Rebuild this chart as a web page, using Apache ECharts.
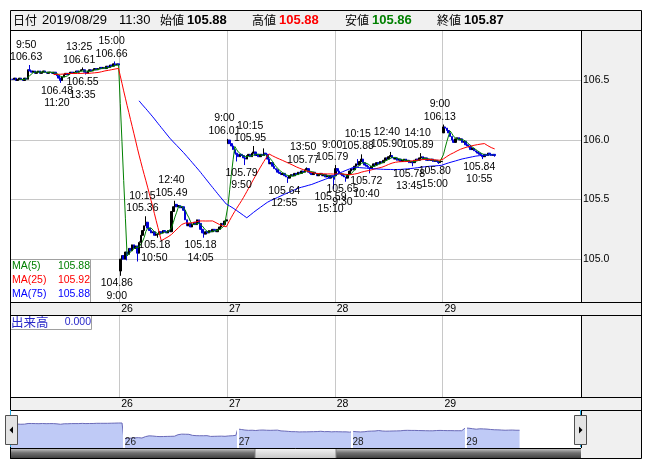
<!DOCTYPE html>
<html><head><meta charset="utf-8">
<script src="https://cdn.jsdelivr.net/npm/echarts@6/dist/echarts.min.js"></script>
<style>html,body{margin:0;padding:0;background:#fff}#c{width:652px;height:469px}</style>
</head><body><div id="c"></div><script>
// ---------------- data ----------------
const dayNames = ['23', '26', '27', '28', '29'];
const dayOpen = [106.51, 104.90, 105.97, 105.70, 106.06];
const close23 = [106.51,106.52,106.50,106.51,106.52,106.51,106.50,106.52,106.51,
  106.59,106.58,
  106.57,106.58,106.56,106.57,106.58,106.56,106.57,106.58,106.57,
  106.56,106.57,106.57,106.56,106.57,106.55,106.54,106.52,
  106.50,106.53,106.55,
  106.56,106.55,106.56,106.57,106.56,106.57,106.58,106.57,106.58,106.59,
  106.59,106.57,106.56,
  106.58,106.59,106.58,106.59,106.60,106.59,106.60,106.61,106.60,
  106.61,106.60,106.62,106.61,106.63,106.62,106.64,106.63,106.64,106.63];
const close26 = [105.00,
  105.03,105.00,105.06,105.04,105.09,
  105.07,105.12,105.09,105.11,105.05,
  105.14,105.20,105.24,105.28,105.31,
  105.26,105.24,105.22,105.23,105.20,105.21,105.21,
  105.23,105.22,105.24,105.23,105.22,105.24,105.23,
  105.40,105.44,105.46,
  105.44,105.45,105.43,105.44,105.41,
  105.33,105.28,105.30,105.27,105.29,
  105.31,105.29,105.33,105.30,105.25,105.22,105.21,
  105.23,105.22,105.24,105.23,105.25,105.24,105.23,105.25,
  105.27,105.30,105.29,105.32,105.33];
const close27 = [106.00,
  105.97,105.95,105.92,105.89,
  105.88,105.86,105.88,105.87,105.85,105.84,
  105.87,105.88,105.86,105.89,105.90,
  105.87,105.88,105.86,105.88,105.87,105.89,105.88,
  105.84,105.80,105.81,105.78,105.76,
  105.75,105.73,105.72,105.71,105.72,105.70,105.69,105.68,
  105.70,105.71,105.70,105.72,105.71,105.73,105.72,
  105.74,105.73,105.75,105.76,
  105.73,105.72,105.71,105.73,105.72,105.70,105.71,105.72,105.70,
  105.71,105.69,105.70,105.68,105.70,105.69,105.67];
const close28 = [105.76,
  105.74,105.72,105.71,105.70,105.69,105.68,
  105.71,105.74,105.76,105.75,
  105.78,105.80,105.79,105.82,105.84,
  105.81,105.79,105.78,105.77,105.76,
  105.78,105.80,105.79,105.81,105.80,105.82,105.81,
  105.83,105.85,105.84,105.86,105.87,
  105.85,105.84,105.85,105.83,105.84,105.82,105.83,
  105.84,105.82,105.83,105.81,105.82,105.81,
  105.83,105.84,105.83,105.85,105.86,
  105.84,105.85,105.83,105.84,105.83,105.84,
  105.82,105.83,105.82,105.81,105.82,105.82];
const close29 = [106.11,
  106.10,106.08,106.06,
  106.03,106.00,105.98,
  106.01,106.02,106.00,106.01,
  105.98,105.99,105.96,105.95,
  105.94,105.92,105.93,105.91,105.90,
  105.89,105.88,105.87,105.86,
  105.88,105.87,105.89,105.88,105.87,105.88,105.87];

// annotated highs / lows
const noteDay   = ['23','23','23','23','23', '26','26','26','26','26', '27','27','27','27','27','27', '28','28','28','28','28','28','28','28', '29','29'];
const noteTime  = ['9:50','11:20','13:25','13:35','15:00', '9:00','10:15','10:50','12:40','14:05', '9:00','9:50','10:15','12:55','13:50','15:10', '9:00','9:30','10:15','10:40','12:40','13:45','14:10','15:00', '9:00','10:55'];
const noteValue = [106.63,106.48,106.61,106.55,106.66, 104.86,105.36,105.18,105.49,105.18, 106.01,105.79,105.95,105.64,105.77,105.59, 105.79,105.65,105.88,105.72,105.90,105.78,105.89,105.80, 106.13,105.84];
const noteSide  = ['top','bottom','top','bottom','top', 'bottom','top','bottom','top','bottom', 'top','bottom','top','bottom','top','bottom', 'top','bottom','top','bottom','top','bottom','top','bottom', 'top','bottom'];
// other visible wicks
const wickDay   = ['26','26','27','27','28','29','29'];
const wickTime  = ['9:50','9:20','9:25','10:45','10:05','11:30','10:20'];
const wickValue = [104.98,104.99,105.82,105.93,105.84,105.86,105.96];

const maPeriods = [5, 25, 75];
const maNames = ['MA(5)', 'MA(25)', 'MA(75)'];
const maShown = ['105.88', '105.92', '105.88'];
const maColors = ['#008000', '#ff0000', '#0000ff'];
const yTicks = [105.0, 105.5, 106.0, 106.5];
const headerDate = '2019/08/29';
const headerTime = '11:30';
const headerNames = ['始値', '高値', '安値', '終値'];
const headerValues = ['105.88', '105.88', '105.86', '105.87'];
const volumeName = '出来高';
const volumeValue = '0.000';

// ---------------- build ----------------
const NUM = "'Liberation Sans', Arial, sans-serif";
const JP = "'Noto Sans CJK JP', 'Noto Sans', sans-serif";
function sessionTimes(n) {
  const t = [];
  for (let k = 0; k < n; k++) {
    const m = k <= 30 ? 540 + 5 * k : 755 + 5 * (k - 31);
    t.push(Math.floor(m / 60) + ':' + String(m % 60).padStart(2, '0'));
  }
  return t;
}
const times = sessionTimes(63);
const dayCloses = [close23, close26, close27, close28, close29];
const bars = [], closesAll = [], dayStart = [];
dayCloses.forEach((arr, d) => {
  dayStart.push(closesAll.length);
  arr.forEach((c, k) => {
    const o = k === 0 ? dayOpen[d] : arr[k - 1];
    bars.push({ o, c, lo: Math.min(o, c), hi: Math.max(o, c), name: dayNames[d] + ' ' + times[k] });
    closesAll.push(c);
  });
});
function barIdx(day, time) { return dayStart[dayNames.indexOf(day)] + times.indexOf(time); }
noteDay.forEach((d, i) => {
  const b = bars[barIdx(d, noteTime[i])];
  if (noteSide[i] === 'top') b.hi = Math.max(b.hi, noteValue[i]); else b.lo = Math.min(b.lo, noteValue[i]);
});
wickDay.forEach((d, i) => {
  const b = bars[barIdx(d, wickTime[i])];
  b.hi = Math.max(b.hi, wickValue[i]); b.lo = Math.min(b.lo, wickValue[i]);
});

const LEAD = 1, MAIN_SLOTS = 334, OV_SLOTS = 317;
const mainCats = [];
for (let i = 0; i < MAIN_SLOTS; i++) {
  const j = i - LEAD;
  mainCats.push(j >= 0 && j < bars.length ? bars[j].name : 's' + i);
}
const ovCats = [];
for (let i = 0; i < OV_SLOTS; i++) ovCats.push(i < bars.length ? bars[i].name : 'o' + i);
const mainDayStarts = dayStart.slice(1).map(s => s + LEAD);
const ovDayStarts = dayStart.slice(1);
function dayOfMain(idx) { return dayNames[mainDayStarts.indexOf(idx) + 1]; }
function dayOfOv(idx) { return dayNames[ovDayStarts.indexOf(idx) + 1]; }

const candleData = [];
for (let i = 0; i < LEAD; i++) candleData.push(['-', '-', '-', '-']);
bars.forEach(b => candleData.push([b.o, b.c, b.lo, b.hi]));

function movingAverage(p) {
  const out = [];
  for (let i = 0; i < LEAD; i++) out.push('-');
  for (let i = 0; i < closesAll.length; i++) {
    if (i < p - 1) { out.push('-'); continue; }
    let s = 0; for (let j = i - p + 1; j <= i; j++) s += closesAll[j];
    out.push(+(s / p).toFixed(4));
  }
  return out;
}

const markData = noteDay.map((d, i) => {
  const v = noteValue[i].toFixed(2), t = noteTime[i];
  const top = noteSide[i] === 'top';
  return {
    coord: [barIdx(d, t) + LEAD, noteValue[i]],
    value: noteValue[i],
    label: { position: top ? 'top' : 'bottom', formatter: top ? t + '\n' + v : v + '\n' + t }
  };
});

// ---------------- decoration (frame) ----------------
const G = [];
function rect(x, y, w, h, fill, stroke, z) {
  G.push({ type: 'rect', silent: true, z: z, shape: { x, y, width: w, height: h }, style: { fill: fill || 'none', stroke: stroke || null, lineWidth: stroke ? 1 : 0 } });
}
function hline(x1, x2, y, c, z) { G.push({ type: 'line', silent: true, z: z || 60, shape: { x1, y1: y, x2, y2: y }, style: { stroke: c || '#000', lineWidth: 1 } }); }
function vline(x, y1, y2, c, z) { G.push({ type: 'line', silent: true, z: z || 60, shape: { x1: x, y1, x2: x, y2 }, style: { stroke: c || '#000', lineWidth: 1 } }); }
function txt(x, y, s, color, font, align, z) {
  G.push({ type: 'text', silent: true, z: z || 70, style: { x, y, text: s, fill: color, font, align: align || 'left', textAlign: align || 'left', verticalAlign: 'middle', textVerticalAlign: 'middle' } });
}
rect(10, 10, 632, 449, '#f0f0f0', null, -20);
rect(10, 30, 571, 272, '#ffffff', null, -10);
rect(10, 315, 571, 82, '#ffffff', null, -10);
rect(10, 410, 571, 38, '#ffffff', null, -10);
rect(10.5, 10.5, 631, 448, null, '#000', 60);
[30.5, 302.5, 315.5, 397.5, 410.5].forEach(y => hline(10, 642, y));
hline(10, 581, 448.5);
vline(581.5, 30, 302); vline(581.5, 315, 397); vline(581.5, 410, 448);
vline(10.5, 410, 447, '#28a8e0', 61); vline(580.5, 410, 447, '#28a8e0', 61);
// header
txt(13, 20.5, '日付', '#000', '12px ' + JP);
txt(42, 20.5, headerDate, '#000', '13px ' + NUM);
txt(119, 20.5, headerTime, '#000', '13px ' + NUM);
const hx = [160, 252, 345, 437];
const hc = ['#000', '#ff0000', '#008000', '#000'];
headerNames.forEach((n, i) => {
  txt(hx[i], 20.5, n, '#000', '12px ' + JP);
  txt(hx[i] + 27, 20.5, headerValues[i], hc[i], 'bold 13px ' + NUM);
});
// MA legend box
rect(10.5, 259.5, 80, 43, '#ffffff', '#a0a0a0', 50);
maNames.forEach((n, i) => {
  txt(12, 266.5 + i * 13.7, n, maColors[i], '10.5px ' + NUM);
  txt(90, 266.5 + i * 13.7, maShown[i], maColors[i], '10.5px ' + NUM, 'right');
});
// volume label
rect(10.5, 315.5, 81, 14, '#ffffff', '#a0a0a0', 50);
txt(11, 322.5, volumeName, '#2828c8', '12.5px ' + JP);
txt(91, 322.5, volumeValue, '#2828c8', '10.5px ' + NUM, 'right');
// scrollbar
G.push({ type: 'rect', silent: true, z: 55, shape: { x: 10, y: 448, width: 571, height: 11 },
  style: { fill: new echarts.graphic.LinearGradient(0, 0, 0, 1, [{ offset: 0, color: '#d0d0d0' }, { offset: 0.45, color: '#707070' }, { offset: 1, color: '#3a3a3a' }]) } });
G.push({ type: 'rect', silent: true, z: 56, shape: { x: 255, y: 448.5, width: 81, height: 10 },
  style: { fill: new echarts.graphic.LinearGradient(0, 0, 0, 1, [{ offset: 0, color: '#f6f6f6' }, { offset: 1, color: '#c4c4c4' }]), stroke: '#808080', lineWidth: 1 } });
// arrow buttons
rect(5.5, 415.5, 12, 29, '#e4e4e4', '#505050', 62);
rect(574.5, 415.5, 12, 29, '#e4e4e4', '#505050', 62);
G.push({ type: 'polygon', silent: true, z: 63, shape: { points: [[9.5, 430], [13, 426.5], [13, 433.5]] }, style: { fill: '#000' } });
G.push({ type: 'polygon', silent: true, z: 63, shape: { points: [[582.5, 430], [579, 426.5], [579, 433.5]] }, style: { fill: '#000' } });

// ---------------- option ----------------
const gridLineColor = '#c8c8c8';
const dayLabel = (getter) => ({
  interval: (idx) => getter(idx) !== undefined,
  formatter: (v, idx) => getter(idx) || '',
  align: 'left', color: '#000', fontSize: 10.5, fontFamily: NUM, padding: [0, 0, 0, 1]
});
const option = {
  animation: false,
  backgroundColor: '#ffffff',
  graphic: G,
  grid: [
    { left: 10, top: 30, width: 571, height: 272 },
    { left: 10, top: 315, width: 571, height: 82 },
    { left: 10, top: 410, width: 571, height: 38 }
  ],
  xAxis: [
    { type: 'category', gridIndex: 0, data: mainCats, boundaryGap: true,
      axisLine: { show: false }, axisTick: { show: false },
      axisLabel: Object.assign(dayLabel(i => mainDayStarts.includes(i) ? dayOfMain(i) : undefined), { margin: 2 }),
      splitLine: { show: true, interval: (i) => mainDayStarts.includes(i), lineStyle: { color: gridLineColor } } },
    { type: 'category', gridIndex: 1, data: mainCats, boundaryGap: true,
      axisLine: { show: false }, axisTick: { show: false },
      axisLabel: Object.assign(dayLabel(i => mainDayStarts.includes(i) ? dayOfMain(i) : undefined), { margin: 2 }),
      splitLine: { show: true, interval: (i) => mainDayStarts.includes(i), lineStyle: { color: gridLineColor } } },
    { type: 'category', gridIndex: 2, data: ovCats, boundaryGap: false, z: 20,
      axisLine: { show: false }, axisTick: { show: false }, splitLine: { show: false },
      axisLabel: Object.assign(dayLabel(i => ovDayStarts.includes(i) ? dayOfOv(i) : undefined), { inside: true, margin: 1, fontSize: 10, color: '#202020' }) }
  ],
  yAxis: [
    { type: 'value', gridIndex: 0, position: 'right', min: 104.64, max: 106.924,
      axisLine: { show: false }, axisTick: { show: false, customValues: yTicks },
      axisLabel: { customValues: yTicks, formatter: v => v.toFixed(1), align: 'left', margin: 2, color: '#000', fontSize: 10.5, fontFamily: NUM },
      splitLine: { show: true, lineStyle: { color: gridLineColor } } },
    { type: 'value', gridIndex: 1, min: 0, max: 1, show: false, splitLine: { show: false } },
    { type: 'value', gridIndex: 2, min: 104, max: 108, show: false, splitLine: { show: false } }
  ],
  series: [
    { type: 'candlestick', xAxisIndex: 0, yAxisIndex: 0, data: candleData, barWidth: 2,
      itemStyle: { color: '#000000', color0: '#0000d8', borderColor: '#000000', borderColor0: '#0000d8', borderWidth: 1 },
      markPoint: { symbol: 'circle', symbolSize: 1, silent: true, itemStyle: { color: 'rgba(0,0,0,0)' },
        label: { show: true, color: '#000', fontSize: 10.5, fontFamily: NUM, lineHeight: 12.5, distance: 1, offset: [-3.5, 0] },
        data: markData } },
    ...maPeriods.map((p, i) => ({ type: 'line', xAxisIndex: 0, yAxisIndex: 0, data: movingAverage(p), symbol: 'none',
      lineStyle: { color: maColors[i], width: 1 }, z: 3 })),
    { type: 'bar', xAxisIndex: 1, yAxisIndex: 1, data: [] },
    { type: 'line', xAxisIndex: 2, yAxisIndex: 2, data: closesAll, symbol: 'none', z: 2,
      lineStyle: { color: '#6a6ab8', width: 1 }, areaStyle: { color: '#bfcaf6', origin: 'start', opacity: 1 },
      markLine: { silent: true, symbol: 'none', label: { show: false }, lineStyle: { color: '#ffffff', width: 2, type: 'solid' },
        data: ovDayStarts.map(i => ({ xAxis: i })) } }
  ]
};
const chart = echarts.init(document.getElementById('c'), null, { renderer: 'canvas', width: 652, height: 469 });
chart.setOption(option);
</script></body></html>
